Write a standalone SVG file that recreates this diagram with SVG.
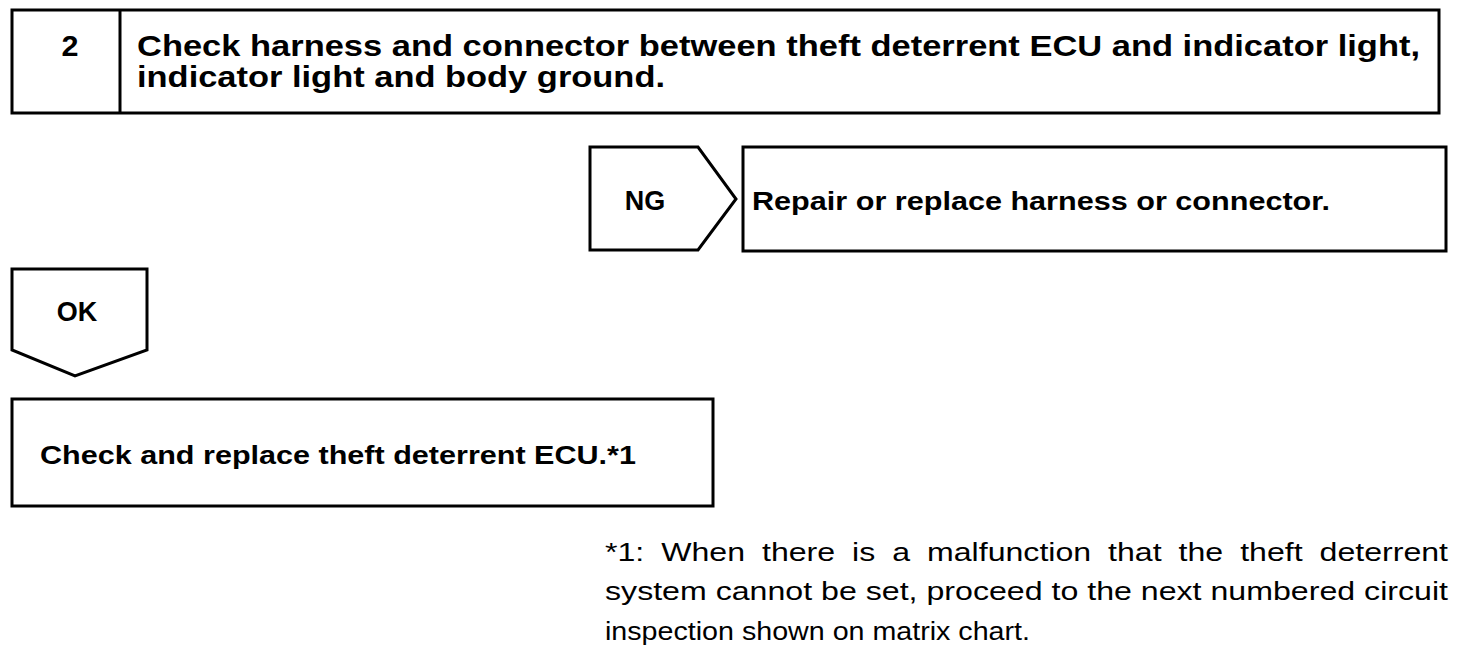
<svg xmlns="http://www.w3.org/2000/svg" width="1472" height="650" viewBox="0 0 1472 650">
<style>
.box{fill:#fff;stroke:#000;stroke-width:3;stroke-linejoin:miter}
.b{font-family:"Liberation Sans",Arial,sans-serif;font-weight:bold;fill:#000}
.r{font-family:"Liberation Sans",Arial,sans-serif;fill:#000;font-size:26px}
</style>
<rect width="1472" height="650" fill="#fff"/>
<g id="step2">
<rect class="box" x="12" y="10" width="1427" height="103"/>
<line x1="120" y1="10" x2="120" y2="113" stroke="#000" stroke-width="3"/>
<text class="b" x="70" y="56" font-size="30" text-anchor="middle" textLength="17" lengthAdjust="spacingAndGlyphs">2</text>
<text class="b" x="137" y="56" font-size="30" textLength="1283" lengthAdjust="spacingAndGlyphs">Check harness and connector between theft deterrent ECU and indicator light,</text>
<text class="b" x="137" y="87" font-size="30" textLength="528" lengthAdjust="spacingAndGlyphs">indicator light and body ground.</text>
</g>
<g id="ng">
<polygon class="box" points="590,147 698,147 736,199 698,250 590,250"/>
<text class="b" x="645" y="210" font-size="27" text-anchor="middle">NG</text>
</g>
<g id="repair">
<rect class="box" x="743" y="147" width="703" height="104"/>
<text class="b" x="752" y="210" font-size="26" textLength="578" lengthAdjust="spacingAndGlyphs">Repair or replace harness or connector.</text>
</g>
<g id="ok">
<polygon class="box" points="12,269 147,269 147,350 75,376 12,350"/>
<text class="b" x="77" y="321" font-size="27" text-anchor="middle">OK</text>
</g>
<g id="ecu">
<rect class="box" x="12" y="399" width="701" height="107"/>
<text class="b" x="40" y="464" font-size="26" textLength="596" lengthAdjust="spacingAndGlyphs">Check and replace theft deterrent ECU.*1</text>
</g>
<g id="connectors"></g>
<g id="note">
<text class="r" x="605" y="561" word-spacing="6.5" textLength="843" lengthAdjust="spacingAndGlyphs">*1: When there is a malfunction that the theft deterrent</text>
<text class="r" x="605" y="600" textLength="843" lengthAdjust="spacingAndGlyphs">system cannot be set, proceed to the next numbered circuit</text>
<text class="r" x="605" y="640" textLength="425" lengthAdjust="spacingAndGlyphs">inspection shown on matrix chart.</text>
</g>
</svg>
